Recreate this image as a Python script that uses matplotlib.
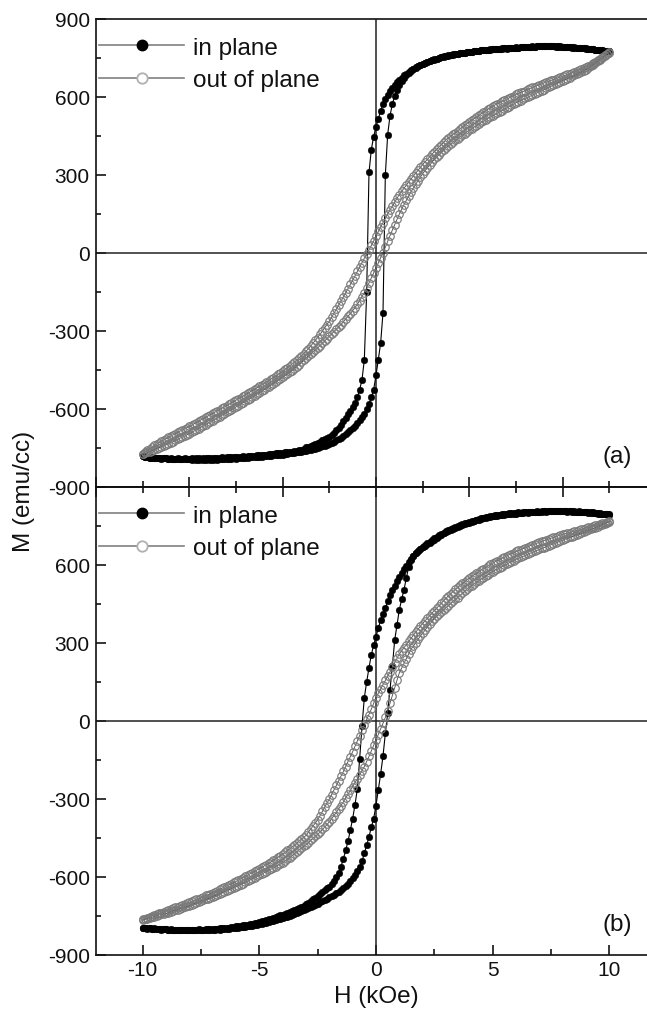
import matplotlib
matplotlib.use("Agg")
import matplotlib.pyplot as plt
import numpy as np

from matplotlib.lines import Line2D
from matplotlib.ticker import MultipleLocator, NullFormatter, FuncFormatter

plt.rcParams['font.family'] = ['Liberation Sans', 'DejaVu Sans']
plt.rcParams['axes.unicode_minus'] = False

# field sweep in kOe, shared by every branch
FIELD = [
    -10.0, -9.9, -9.8, -9.7, -9.6, -9.5, -9.4, -9.3, -9.2, -9.1,
    -9.0, -8.9, -8.8, -8.7, -8.6, -8.5, -8.4, -8.3, -8.2, -8.1,
    -8.0, -7.9, -7.8, -7.7, -7.6, -7.5, -7.4, -7.3, -7.2, -7.1,
    -7.0, -6.9, -6.8, -6.7, -6.6, -6.5, -6.4, -6.3, -6.2, -6.1,
    -6.0, -5.9, -5.8, -5.7, -5.6, -5.5, -5.4, -5.3, -5.2, -5.1,
    -5.0, -4.9, -4.8, -4.7, -4.6, -4.5, -4.4, -4.3, -4.2, -4.1,
    -4.0, -3.9, -3.8, -3.7, -3.6, -3.5, -3.4, -3.3, -3.2, -3.1,
    -3.0, -2.9, -2.8, -2.7, -2.6, -2.5, -2.4, -2.3, -2.2, -2.1,
    -2.0, -1.9, -1.8, -1.7, -1.6, -1.5, -1.4, -1.3, -1.2, -1.1,
    -1.0, -0.9, -0.8, -0.7, -0.6, -0.5, -0.4, -0.3, -0.2, -0.1,
    0.0, 0.1, 0.2, 0.3, 0.4, 0.5, 0.6, 0.7, 0.8, 0.9,
    1.0, 1.1, 1.2, 1.3, 1.4, 1.5, 1.6, 1.7, 1.8, 1.9,
    2.0, 2.1, 2.2, 2.3, 2.4, 2.5, 2.6, 2.7, 2.8, 2.9,
    3.0, 3.1, 3.2, 3.3, 3.4, 3.5, 3.6, 3.7, 3.8, 3.9,
    4.0, 4.1, 4.2, 4.3, 4.4, 4.5, 4.6, 4.7, 4.8, 4.9,
    5.0, 5.1, 5.2, 5.3, 5.4, 5.5, 5.6, 5.7, 5.8, 5.9,
    6.0, 6.1, 6.2, 6.3, 6.4, 6.5, 6.6, 6.7, 6.8, 6.9,
    7.0, 7.1, 7.2, 7.3, 7.4, 7.5, 7.6, 7.7, 7.8, 7.9,
    8.0, 8.1, 8.2, 8.3, 8.4, 8.5, 8.6, 8.7, 8.8, 8.9,
    9.0, 9.1, 9.2, 9.3, 9.4, 9.5, 9.6, 9.7, 9.8, 9.9,
    10.0,
]

# sample (a): M in emu/cc, descending (+10 -> -10) and ascending branches
A_IN_DOWN = [
    -780, -784, -786, -787, -789, -788, -790, -789, -791, -790,
    -789, -791, -790, -792, -791, -790, -792, -791, -790, -792,
    -791, -790, -792, -790, -789, -791, -790, -788, -789, -790,
    -788, -789, -787, -788, -786, -787, -786, -785, -786, -784,
    -785, -783, -784, -782, -783, -781, -780, -781, -779, -778,
    -778, -777, -776, -776, -774, -773, -773, -771, -770, -769,
    -768, -767, -766, -765, -764, -762, -761, -759, -757, -755,
    -748, -745, -742, -738, -734, -729, -725, -720, -716, -711,
    -706, -699, -691, -682, -672, -660, -648, -634, -620, -607,
    -592, -575, -555, -525, -488, -410, -150, 310, 398, 448,
    485, 515, 548, 572, 592, 608, 622, 636, 648, 658,
    667, 675, 683, 690, 697, 703, 709, 714, 719, 724,
    728, 732, 736, 739, 742, 745, 748, 751, 753, 756,
    758, 760, 762, 764, 766, 767, 769, 770, 771, 773,
    774, 775, 776, 778, 777, 779, 780, 781, 780, 782,
    783, 784, 785, 784, 786, 787, 786, 788, 789, 788,
    790, 789, 791, 792, 791, 793, 792, 794, 793, 795,
    796, 795, 797, 796, 795, 797, 796, 794, 795, 793,
    794, 792, 793, 791, 790, 791, 789, 788, 789, 787,
    786, 785, 784, 783, 782, 781, 780, 779, 778, 777,
    776,
]
A_IN_UP = [
    -781, -783, -785, -787, -786, -788, -789, -788, -790, -789,
    -790, -791, -793, -792, -791, -793, -794, -792, -793, -794,
    -793, -795, -794, -796, -795, -794, -796, -795, -794, -796,
    -795, -794, -795, -793, -794, -792, -793, -791, -792, -790,
    -791, -789, -790, -788, -787, -788, -786, -785, -786, -784,
    -785, -783, -782, -781, -781, -779, -778, -778, -776, -775,
    -775, -773, -772, -771, -770, -768, -767, -765, -764, -762,
    -761, -759, -757, -755, -752, -750, -747, -744, -741, -738,
    -734, -730, -726, -721, -716, -710, -704, -697, -690, -682,
    -673, -665, -655, -644, -632, -618, -600, -580, -555, -525,
    -470, -410, -345, -230, 300, 455, 528, 572, 604, 628,
    647, 661, 673, 684, 693, 700, 707, 713, 718, 723,
    727, 731, 735, 738, 741, 744, 747, 750, 752, 755,
    757, 759, 761, 763, 765, 766, 768, 769, 771, 772,
    773, 775, 776, 777, 778, 779, 781, 780, 782, 783,
    784, 785, 786, 785, 787, 788, 787, 789, 790, 789,
    791, 790, 792, 793, 792, 794, 793, 795, 794, 796,
    795, 797, 796, 798, 796, 795, 797, 795, 794, 795,
    793, 794, 792, 791, 792, 790, 789, 790, 788, 787,
    787, 785, 784, 784, 782, 781, 780, 779, 778, 778,
    777,
]
A_OUT_DOWN = [
    -772, -766, -759, -753, -746, -740, -735, -729, -724, -719,
    -714, -709, -704, -700, -695, -690, -685, -681, -676, -672,
    -667, -662, -657, -652, -647, -642, -637, -632, -627, -622,
    -617, -612, -607, -602, -597, -592, -587, -582, -576, -571,
    -566, -561, -556, -551, -545, -540, -535, -529, -524, -518,
    -513, -507, -502, -496, -491, -485, -479, -473, -467, -461,
    -455, -448, -441, -434, -427, -420, -412, -404, -396, -387,
    -378, -368, -358, -347, -336, -325, -313, -301, -288, -275,
    -262, -247, -232, -216, -201, -185, -169, -153, -137, -121,
    -105, -88, -71, -54, -37, -20, -3, 13, 29, 46,
    66, 83, 100, 117, 134, 150, 165, 180, 195, 210,
    225, 237, 249, 261, 273, 285, 296, 307, 318, 329,
    340, 350, 360, 370, 380, 390, 399, 408, 417, 426,
    435, 442, 449, 456, 463, 470, 477, 484, 491, 498,
    505, 511, 517, 523, 529, 535, 541, 547, 553, 559,
    565, 569, 574, 578, 583, 587, 592, 596, 601, 605,
    610, 614, 618, 621, 625, 629, 633, 637, 640, 644,
    648, 651, 654, 658, 661, 664, 667, 670, 674, 677,
    680, 683, 687, 690, 694, 697, 700, 704, 707, 711,
    714, 719, 725, 730, 736, 742, 748, 754, 760, 766,
    772,
]
A_OUT_UP = [
    -774, -771, -767, -764, -760, -757, -753, -749, -746, -742,
    -738, -734, -730, -726, -721, -717, -712, -708, -704, -699,
    -695, -690, -685, -680, -675, -670, -665, -660, -655, -650,
    -645, -640, -634, -629, -624, -618, -613, -608, -602, -597,
    -592, -587, -581, -576, -570, -565, -560, -554, -549, -543,
    -538, -532, -526, -520, -514, -508, -502, -496, -490, -484,
    -478, -471, -465, -458, -452, -445, -437, -429, -421, -413,
    -405, -397, -389, -381, -373, -365, -356, -347, -338, -329,
    -320, -311, -302, -293, -284, -275, -265, -254, -243, -233,
    -222, -210, -197, -183, -168, -152, -134, -115, -96, -77,
    -58, -38, -18, 1, 22, 45, 67, 88, 109, 130,
    150, 168, 186, 203, 219, 235, 250, 264, 278, 292,
    305, 316, 327, 338, 349, 360, 369, 378, 387, 396,
    405, 412, 419, 426, 433, 440, 446, 453, 459, 466,
    472, 478, 484, 490, 496, 502, 507, 512, 518, 523,
    528, 533, 538, 543, 548, 553, 558, 563, 568, 573,
    578, 582, 586, 591, 595, 599, 603, 607, 612, 616,
    620, 624, 628, 633, 637, 641, 645, 649, 654, 658,
    662, 666, 670, 675, 679, 683, 687, 692, 696, 700,
    705, 711, 718, 724, 731, 738, 744, 751, 757, 764,
    770,
]

# sample (b)
B_IN_DOWN = [
    -795, -797, -796, -798, -799, -798, -800, -799, -801, -800,
    -800, -802, -801, -803, -802, -804, -803, -802, -804, -803,
    -803, -804, -802, -803, -801, -802, -803, -801, -800, -801,
    -800, -799, -800, -798, -797, -796, -797, -795, -794, -792,
    -790, -789, -787, -786, -784, -783, -781, -779, -777, -775,
    -772, -770, -768, -765, -763, -760, -757, -754, -751, -748,
    -745, -742, -738, -735, -731, -728, -724, -719, -715, -710,
    -705, -699, -692, -686, -679, -672, -665, -658, -651, -644,
    -637, -627, -615, -600, -583, -560, -530, -498, -462, -420,
    -375, -322, -262, -145, -20, 90, 150, 205, 255, 292,
    325, 357, 388, 412, 435, 460, 483, 502, 520, 537,
    552, 568, 583, 598, 612, 625, 636, 646, 655, 663,
    670, 677, 684, 690, 696, 702, 708, 714, 719, 725,
    730, 734, 738, 742, 746, 750, 753, 757, 760, 762,
    765, 768, 771, 774, 777, 779, 781, 783, 785, 787,
    790, 791, 793, 794, 795, 797, 798, 799, 800, 799,
    800, 802, 801, 803, 802, 804, 803, 805, 804, 806,
    805, 807, 806, 808, 807, 806, 808, 807, 809, 808,
    808, 807, 809, 808, 806, 807, 805, 806, 804, 805,
    804, 803, 802, 803, 801, 800, 799, 798, 797, 796,
    795,
]
B_IN_UP = [
    -796, -797, -799, -798, -800, -799, -801, -800, -802, -801,
    -800, -802, -803, -802, -804, -803, -805, -804, -803, -805,
    -804, -803, -805, -804, -803, -804, -802, -803, -804, -802,
    -803, -802, -801, -802, -800, -801, -799, -800, -798, -797,
    -797, -796, -794, -793, -791, -790, -788, -787, -785, -784,
    -782, -780, -778, -776, -774, -771, -769, -766, -763, -761,
    -758, -755, -752, -749, -745, -742, -739, -735, -731, -728,
    -724, -720, -715, -711, -707, -702, -697, -692, -688, -683,
    -678, -673, -668, -663, -657, -651, -644, -636, -626, -616,
    -605, -592, -578, -560, -540, -508, -478, -445, -408, -375,
    -325, -265, -203, -135, -48, 30, 120, 210, 310, 370,
    428, 468, 505, 550, 592, 620, 636, 646, 655, 662,
    668, 674, 680, 686, 692, 698, 704, 710, 716, 722,
    727, 731, 735, 740, 744, 748, 751, 754, 757, 760,
    763, 766, 769, 772, 775, 777, 779, 781, 783, 785,
    787, 789, 790, 792, 793, 794, 795, 796, 797, 798,
    798, 799, 801, 800, 802, 801, 803, 802, 804, 803,
    804, 805, 806, 805, 807, 806, 808, 807, 806, 807,
    806, 807, 805, 806, 804, 805, 803, 804, 802, 803,
    802, 801, 800, 801, 799, 798, 797, 797, 796, 795,
    794,
]
B_OUT_DOWN = [
    -763, -760, -757, -753, -750, -747, -743, -740, -737, -733,
    -730, -727, -723, -720, -717, -714, -711, -707, -704, -701,
    -698, -694, -690, -686, -683, -679, -675, -671, -668, -664,
    -660, -656, -652, -647, -643, -639, -634, -630, -626, -621,
    -617, -612, -607, -602, -597, -593, -588, -583, -578, -573,
    -568, -563, -558, -553, -548, -542, -536, -530, -524, -518,
    -512, -505, -498, -492, -485, -478, -470, -462, -455, -447,
    -440, -428, -416, -404, -392, -380, -364, -348, -332, -316,
    -300, -283, -265, -248, -230, -212, -194, -175, -156, -137,
    -118, -97, -76, -56, -35, -15, 6, 25, 46, 68,
    90, 107, 123, 140, 156, 172, 189, 206, 224, 241,
    258, 270, 282, 294, 306, 318, 330, 341, 353, 364,
    375, 385, 395, 405, 415, 425, 434, 444, 453, 463,
    472, 481, 489, 498, 506, 515, 522, 529, 536, 543,
    550, 556, 562, 568, 574, 580, 585, 590, 596, 602,
    608, 612, 617, 621, 626, 630, 635, 639, 643, 648,
    652, 656, 659, 663, 666, 670, 674, 677, 681, 684,
    688, 691, 694, 697, 700, 703, 706, 709, 712, 715,
    718, 720, 723, 725, 728, 730, 732, 735, 737, 740,
    742, 745, 747, 750, 752, 755, 758, 760, 763, 765,
    768,
]
B_OUT_UP = [
    -766, -763, -761, -758, -755, -752, -749, -746, -743, -741,
    -740, -737, -734, -731, -728, -725, -722, -719, -716, -713,
    -710, -707, -703, -700, -697, -693, -690, -686, -683, -679,
    -676, -672, -668, -665, -661, -657, -653, -649, -646, -642,
    -638, -634, -629, -625, -620, -616, -612, -607, -603, -598,
    -594, -589, -584, -579, -574, -570, -565, -560, -555, -550,
    -545, -539, -532, -525, -518, -510, -503, -496, -489, -482,
    -476, -468, -459, -451, -444, -436, -427, -417, -408, -398,
    -388, -376, -364, -351, -338, -325, -311, -296, -282, -267,
    -252, -237, -222, -206, -191, -175, -156, -136, -115, -94,
    -72, -52, -31, -9, 14, 40, 68, 98, 128, 157,
    185, 204, 222, 240, 258, 275, 288, 301, 314, 326,
    338, 349, 361, 372, 383, 393, 402, 411, 420, 428,
    436, 444, 452, 460, 468, 475, 483, 491, 499, 507,
    515, 521, 527, 533, 539, 545, 551, 557, 563, 569,
    575, 580, 584, 589, 594, 599, 603, 608, 613, 617,
    622, 626, 630, 633, 637, 641, 645, 649, 652, 656,
    660, 664, 667, 671, 674, 678, 681, 685, 688, 692,
    695, 699, 702, 706, 709, 713, 716, 720, 723, 727,
    730, 734, 737, 741, 744, 748, 752, 755, 759, 762,
    766,
]

LEGEND_LABELS = ['in plane', 'out of plane']
PANEL_TAGS = ['(a)', '(b)']
Y_TICK_STEP = 300
M_LIMIT = 900
H_LIMIT = 12

TEXT = '#111111'
FIG_W, FIG_H = 647, 1012
DPI = 100


def to_fig(left, top, right, bottom):
    """pixel box (from the top-left corner) -> figure fraction rect"""
    return [left / FIG_W, 1 - bottom / FIG_H,
            (right - left) / FIG_W, (bottom - top) / FIG_H]


def draw_loops(ax, in_down, in_up, out_down, out_up):
    h = np.array(FIELD)
    for m in (in_down, in_up):
        ax.plot(h, m, color='black', lw=0.8, marker='o', ms=4.8,
                mfc='black', mec='black', mew=0.3, zorder=3)
    for m in (out_down, out_up):
        ax.plot(h, m, color='#4a4a4a', lw=0.6, marker='o', ms=5.4,
                mfc='none', mec='#7a7a7a', mew=0.85, zorder=4)


def style_axes(ax):
    ax.set_xlim(-H_LIMIT, H_LIMIT)
    ax.set_ylim(-M_LIMIT, M_LIMIT)
    ax.axhline(0, color='#222222', lw=1.1, zorder=2)
    ax.axvline(0, color='#222222', lw=1.1, zorder=2)

    for side in ('left', 'top', 'bottom'):
        ax.spines[side].set_linewidth(1.2)
        ax.spines[side].set_color('#111111')
    ax.spines['right'].set_visible(False)

    ax.yaxis.set_major_locator(MultipleLocator(Y_TICK_STEP))
    ax.yaxis.set_minor_locator(MultipleLocator(Y_TICK_STEP / 2))
    ax.tick_params(axis='y', which='both', direction='in', right=False,
                   labelsize=15, labelcolor=TEXT, pad=4.5, width=1.1)
    ax.tick_params(axis='y', which='major', length=7)
    ax.tick_params(axis='y', which='minor', length=3.5)


def shared_edge_ticks(axis):
    # ticks along the common edge of the two panels
    axis.set_major_locator(MultipleLocator(4))
    axis.set_minor_locator(MultipleLocator(2))
    axis.set_major_formatter(NullFormatter())


def add_legend(ax):
    handles = [
        Line2D([], [], color='#808080', lw=1.2, marker='o', ms=7.5,
               mfc='black', mec='black'),
        Line2D([], [], color='#808080', lw=1.2, marker='o', ms=7.5,
               mfc='white', mec='#b0b0b0', mew=1.3),
    ]
    ax.legend(handles, LEGEND_LABELS, loc='upper left',
              bbox_to_anchor=(0.006, 0.962), frameon=False,
              fontsize=17.5, handlelength=3.5, handletextpad=0.35,
              labelspacing=0.42, borderpad=0, borderaxespad=0,
              numpoints=1, labelcolor=TEXT)


def main():
    fig = plt.figure(figsize=(FIG_W / DPI, FIG_H / DPI), dpi=DPI)
    fig.patch.set_facecolor('white')

    ax_a = fig.add_axes(to_fig(96, 20, 656, 488))
    ax_b = fig.add_axes(to_fig(96, 488, 656, 956))

    draw_loops(ax_a, A_IN_DOWN, A_IN_UP, A_OUT_DOWN, A_OUT_UP)
    draw_loops(ax_b, B_IN_DOWN, B_IN_UP, B_OUT_DOWN, B_OUT_UP)

    for ax, tag in zip((ax_a, ax_b), PANEL_TAGS):
        style_axes(ax)
        add_legend(ax)
        ax.text(0.930, 0.066, tag, transform=ax.transAxes, fontsize=17.5,
                color=TEXT, ha='center', va='center')

    # top panel: no labels on x, ticks only on the lower edge
    shared_edge_ticks(ax_a.xaxis)
    ax_a.tick_params(axis='x', which='both', direction='in', top=False,
                     bottom=True, labelbottom=False, width=1.1)
    ax_a.tick_params(axis='x', which='major', length=7)
    ax_a.tick_params(axis='x', which='minor', length=4.3)

    # bottom panel: labelled field axis below, plain ticks on the shared edge
    ax_b.xaxis.set_major_locator(MultipleLocator(5))
    ax_b.xaxis.set_minor_locator(MultipleLocator(2.5))
    ax_b.tick_params(axis='x', which='both', direction='in', top=False,
                     labelsize=15, labelcolor=TEXT, pad=3.5, width=1.1)
    ax_b.tick_params(axis='x', which='major', length=7)
    ax_b.tick_params(axis='x', which='minor', length=4.3)
    ax_b.yaxis.set_major_formatter(
        FuncFormatter(lambda v, pos: '' if v >= M_LIMIT else '%d' % v))

    top = ax_b.secondary_xaxis('top')
    shared_edge_ticks(top.xaxis)
    top.tick_params(axis='x', which='both', direction='in', width=1.1)
    top.tick_params(axis='x', which='major', length=7)
    top.tick_params(axis='x', which='minor', length=4.3)
    top.spines['top'].set_linewidth(1.2)

    fig.text(24 / FIG_W, 1 - 491 / FIG_H, 'M (emu/cc)', rotation=90,
             fontsize=17.5, color=TEXT, ha='center', va='center')
    fig.text(376 / FIG_W, 1 - 997 / FIG_H, 'H (kOe)',
             fontsize=17.5, color=TEXT, ha='center', va='center')

    fig.savefig('out.png', dpi=DPI, facecolor='white')


if __name__ == "__main__":
    main()
